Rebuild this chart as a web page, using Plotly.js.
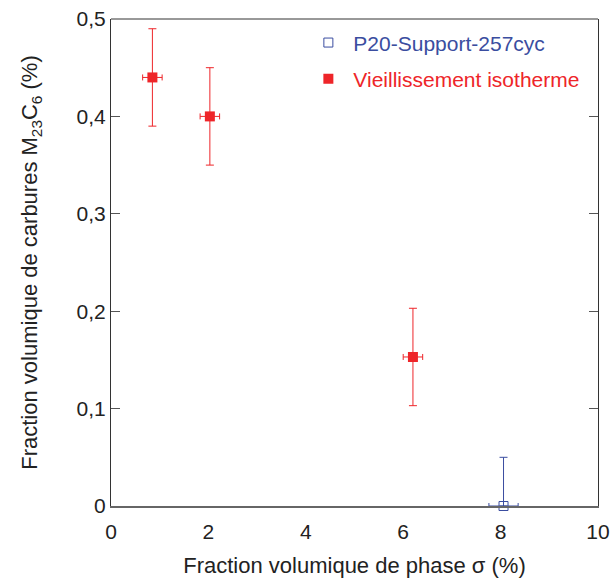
<!DOCTYPE html>
<html><head><meta charset="utf-8">
<script src="https://cdn.plot.ly/plotly-3.0.1.min.js"></script>
<style>body{margin:0;background:#fff}#g{width:610px;height:580px}</style>
</head><body><div id="g"></div>
<script>
const vieilX = [0.85, 2.03, 6.2];
const vieilY = [0.44, 0.40, 0.153];
const vieilXErr = [0.2, 0.2, 0.2];
const vieilYErr = [0.05, 0.05, 0.05];
const suppX = [8.06];
const suppY = [0.0];
const suppXErr = [0.3];
const suppYErr = [0.05];
const names = ['P20-Support-257cyc', 'Vieillissement isotherme'];
const colors = ['#3a4da0', '#ee2529'];
const yTicks = [0, 0.1, 0.2, 0.3, 0.4, 0.5];
const xTicks = [0, 2, 4, 6, 8, 10];

const traces = [
  {x: suppX, y: suppY, mode: 'markers', type: 'scatter', cliponaxis: false, legendgroup: 'a',
   name: '<span style="color:' + colors[0] + '">' + names[0] + '</span>',
   marker: {symbol: 'square-open', size: 9, color: colors[0], line: {width: 1, color: colors[0]}},
   error_x: {type: 'data', array: suppXErr, visible: true, color: colors[0], thickness: 1, width: 3},
   error_y: {type: 'data', array: suppYErr, arrayminus: [0], symmetric: false, visible: true, color: colors[0], thickness: 1, width: 4}},
  {x: vieilX, y: vieilY, mode: 'markers', type: 'scatter', cliponaxis: false, legendgroup: 'b',
   name: '<span style="color:' + colors[1] + '">' + names[1] + '</span>',
   marker: {symbol: 'square', size: 10, color: colors[1]},
   error_x: {type: 'data', array: vieilXErr, visible: true, color: colors[1], thickness: 1, width: 3},
   error_y: {type: 'data', array: vieilYErr, visible: true, color: colors[1], thickness: 1, width: 4}}
];

const fam = 'Liberation Sans, Arial, sans-serif';
const layout = {
  width: 610, height: 580,
  margin: {l: 111, r: 12, t: 19, b: 74},
  separators: ', ',
  paper_bgcolor: '#fff', plot_bgcolor: '#fff',
  font: {family: fam, size: 20, color: '#222'},
  showlegend: true,
  legend: {x: 0.395, y: 0.993, xanchor: 'left', yanchor: 'top', bgcolor: 'rgba(0,0,0,0)',
           font: {family: fam, size: 21}, itemwidth: 40, tracegroupgap: 6},
  xaxis: {range: [0, 10], tickvals: xTicks, showgrid: false, zeroline: false,
          showline: true, linecolor: '#666', linewidth: 2, mirror: false,
          ticks: 'outside', ticklen: 6, tickcolor: 'rgba(0,0,0,0)', tickfont: {size: 21, color: '#222'},
          title: {text: 'Fraction volumique de phase σ (%)', font: {size: 22, color: '#222'}, standoff: 15}},
  yaxis: {range: [0, 0.5], tickvals: yTicks, showgrid: false, zeroline: false,
          showline: true, linecolor: '#333', linewidth: 1, mirror: 'ticks',
          ticks: 'inside', ticklen: 9, tickcolor: '#555',
          tickfont: {size: 21, color: '#222'},
          title: {text: 'Fraction volumique de carbures M<sub>23</sub>C<sub>6</sub> (%)', font: {size: 22, color: '#222'}, standoff: 32}},
  shapes: [{type: 'line', xref: 'paper', yref: 'paper', x0: 0, x1: 1, y0: 1, y1: 1, line: {color: '#333', width: 1}}]
};
Plotly.newPlot('g', traces, layout, {displayModeBar: false, staticPlot: true});
</script></body></html>
